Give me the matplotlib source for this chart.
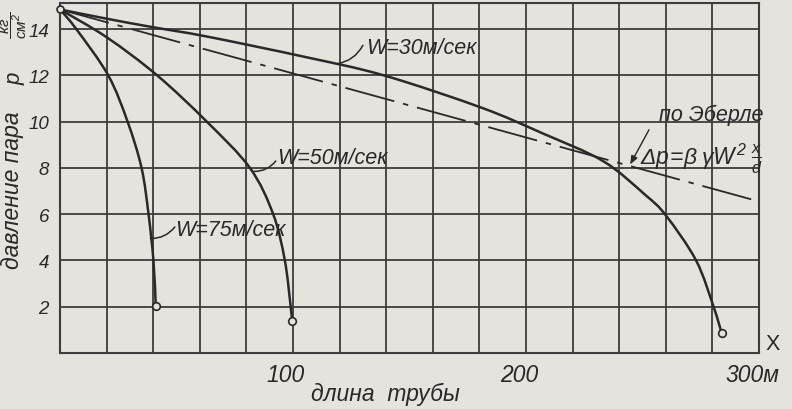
import matplotlib
matplotlib.use("Agg")
import numpy as np
import matplotlib.pyplot as plt
from matplotlib.path import Path
from matplotlib.patches import PathPatch
import matplotlib.transforms as mtransforms

# ---------------- data ----------------
x_w30 = [0, 20, 40, 63, 105, 139, 181, 207, 233, 251, 260, 273, 280.5, 284]
p_w30 = [14.85, 14.45, 14.08, 13.68, 12.8, 12.0, 10.6, 9.5, 8.3, 6.85, 5.95, 4.0, 2.0, 0.85]

x_w50 = [0, 20, 41.7, 63, 81.5, 91.5, 96.5, 99, 99.6]
p_w50 = [14.85, 13.65, 12.0, 10.0, 8.0, 6.0, 4.0, 2.0, 1.4]

x_w75 = [0, 7, 20.7, 29, 35, 38, 40.1, 41.1]
p_w75 = [14.85, 14.0, 12.0, 10.0, 8.0, 6.0, 4.0, 2.05]

x_eberle = [0, 300]
p_eberle = [14.85, 6.55]

x_ticks = [100, 200, 300]
x_ticklabels = ["100", "200", "300м"]
y_ticks = [2, 4, 6, 8, 10, 12, 14]
y_ticklabels = ["2", "4", "6", "8", "10", "12", "14"]

label_w30 = "W=30м/сек"
label_w50 = "W=50м/сек"
label_w75 = "W=75м/сек"
label_eberle = "по Эберле"
formula_eberle = r"$\Delta p\!=\!\beta\;\gamma W^{2}\;\frac{x}{d}$"
xlabel = "длина  трубы"
ylabel = "давление пара"

# ---------------- style ----------------
plt.rcParams["font.family"] = ["Liberation Sans", "DejaVu Sans"]
plt.rcParams["font.style"] = "italic"
plt.rcParams["mathtext.fontset"] = "custom"
plt.rcParams["mathtext.rm"] = "Liberation Sans:italic"
plt.rcParams["mathtext.it"] = "Liberation Sans:italic"
plt.rcParams["mathtext.bf"] = "Liberation Sans:italic:bold"

bg = "#e4e3de"
ink = "#2a2828"
grid_c = "#3e3c3c"
fs = 15.5

fig = plt.figure(figsize=(7.92, 4.10), dpi=100)
fig.patch.set_facecolor(bg)
ax = fig.add_axes([60 / 792, 1 - 354 / 410, (759 - 60) / 792, (354 - 3.5) / 410])
ax.set_facecolor(bg)

ax.set_xlim(0, 300)
ax.set_ylim(0, 15.15)

ax.set_xticks(x_ticks)
ax.set_xticklabels(x_ticklabels, fontsize=fs + 1, style="italic", color=ink)
ax.set_xticks(list(range(0, 301, 20)), minor=True)
ax.set_yticks(y_ticks)
ax.set_yticklabels(y_ticklabels, fontsize=13.5, style="italic", color=ink)
ax.tick_params(axis="both", which="both", length=0)
ax.tick_params(axis="x", pad=7)
ax.tick_params(axis="y", pad=8)
shift = mtransforms.ScaledTranslation(-7 / 100, 0, fig.dpi_scale_trans)
for lbl in ax.get_xticklabels():
    lbl.set_transform(lbl.get_transform() + shift)

ax.grid(True, which="both", axis="x", color=grid_c, lw=1.3)
ax.grid(True, which="major", axis="y", color=grid_c, lw=1.3)
ax.set_axisbelow(True)
for s in ax.spines.values():
    s.set_color(grid_c)
    s.set_linewidth(1.5)


def smooth_curve(ax, xs, ys, **kw):
    """Draw a smooth curve through the given points (Catmull-Rom rendered as cubic Bezier)."""
    pts = ax.transData.transform(np.column_stack([xs, ys]))
    n = len(pts)
    verts = [pts[0]]
    codes = [Path.MOVETO]
    for i in range(n - 1):
        p0 = pts[i - 1] if i > 0 else pts[i]
        p1 = pts[i]
        p2 = pts[i + 1]
        p3 = pts[i + 2] if i + 2 < n else pts[i + 1]
        c1 = p1 + (p2 - p0) / 6.0
        c2 = p2 - (p3 - p1) / 6.0
        verts += [c1, c2, p2]
        codes += [Path.CURVE4] * 3
    verts = ax.transData.inverted().transform(np.array(verts))
    patch = PathPatch(Path(verts, codes), fill=False, transform=ax.transData, **kw)
    ax.add_patch(patch)


# curves
for xs, ps in [(x_w30, p_w30), (x_w50, p_w50), (x_w75, p_w75)]:
    smooth_curve(ax, xs, ps, edgecolor=ink, lw=1.8, capstyle="round", zorder=3)
    ax.plot(xs[-1], ps[-1], "o", ms=5.5, mfc=bg, mec=ink, mew=1.2, zorder=4)

ax.plot(x_eberle, p_eberle, color=ink, lw=1.3, dashes=(28, 5, 3, 5), zorder=3)
ax.plot(x_w30[0], p_w30[0], "o", ms=5, mfc=bg, mec=ink, mew=1.2, zorder=4, clip_on=False)

# labels with leaders
lead = dict(arrowstyle="-", color=ink, lw=1.1, shrinkA=0, shrinkB=0)
ax.annotate("", xy=(118.8, 12.5), xytext=(130, 13.3),
            arrowprops=dict(lead, connectionstyle="arc3,rad=-0.25"))
ax.text(131.5, 13.2, label_w30, fontsize=fs, color=ink, va="center", ha="left")

ax.annotate("", xy=(83.2, 7.85), xytext=(92.6, 8.3),
            arrowprops=dict(lead, connectionstyle="arc3,rad=-0.25"))
ax.text(93, 8.45, label_w50, fontsize=fs, color=ink, va="center", ha="left")

ax.annotate("", xy=(38.8, 4.95), xytext=(49.3, 5.45),
            arrowprops=dict(lead, connectionstyle="arc3,rad=-0.25"))
ax.text(49.6, 5.32, label_w75, fontsize=fs, color=ink, va="center", ha="left")

ax.text(257, 10.3, label_eberle, fontsize=fs, color=ink, va="center", ha="left")
ax.text(249, 8.45, formula_eberle, fontsize=fs + 1, color=ink, va="center", ha="left")
ax.annotate("", xy=(244.7, 8.15), xytext=(252.8, 9.65),
            arrowprops=dict(arrowstyle="-|>,head_length=0.5,head_width=0.2",
                            color=ink, lw=1.0, shrinkA=0, shrinkB=0))

# axis labels
fig.text(385 / 792, 1 - 394 / 410, xlabel, fontsize=fs + 1, color=ink,
         ha="center", va="center", style="italic")
fig.text(773 / 792, 1 - 345 / 410, "X", fontsize=fs, color=ink,
         ha="center", va="center", style="normal")
fig.text(13 / 792, 1 - 190 / 410, ylabel, fontsize=fs + 1, color=ink,
         rotation=90, ha="center", va="center", style="italic")
fig.text(15 / 792, 1 - 79 / 410, "p", fontsize=16, color=ink,
         rotation=90, ha="center", va="center", style="italic")
fig.text(14 / 792, 1 - 25 / 410, r"$\dfrac{кг}{см^{2}}$", fontsize=11, color=ink,
         rotation=90, ha="center", va="center")

fig.savefig("out.png", dpi=100, facecolor=bg)
